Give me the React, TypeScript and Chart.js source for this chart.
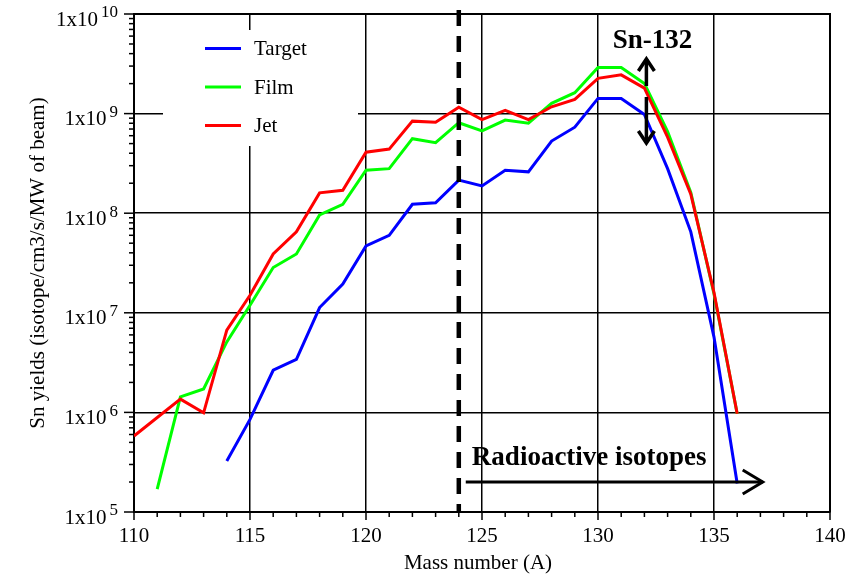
import React, { useEffect, useRef } from 'react';
import { Chart, registerables } from 'chart.js';

Chart.register(...registerables);

// ---------- data ----------
const massNumbers = [110, 111, 112, 113, 114, 115, 116, 117, 118, 119, 120, 121, 122, 123, 124, 125, 126, 127, 128, 129, 130, 131, 132, 133, 134, 135, 136];

const targetYields = [null, null, null, null, 3.25e5, 8.5e5, 2.65e6, 3.4e6, 1.13e7, 1.94e7, 4.7e7, 6.0e7, 1.23e8, 1.27e8, 2.15e8, 1.88e8, 2.7e8, 2.6e8, 5.3e8, 7.3e8, 1.42e9, 1.42e9, 9.8e8, 2.8e8, 6.5e7, 5.7e6, 1.93e5];

const filmYields = [null, 1.7e5, 1.43e6, 1.72e6, 5.1e6, 1.19e7, 2.85e7, 3.9e7, 9.6e7, 1.23e8, 2.7e8, 2.8e8, 5.6e8, 5.1e8, 8.1e8, 6.7e8, 8.6e8, 8.0e8, 1.27e9, 1.62e9, 2.91e9, 2.91e9, 2.01e9, 6.6e8, 1.62e8, 1.55e7, 9.7e5];

const jetYields = [5.8e5, null, 1.36e6, 9.9e5, 6.7e6, 1.5e7, 3.9e7, 6.5e7, 1.6e8, 1.7e8, 4.1e8, 4.4e8, 8.4e8, 8.2e8, 1.16e9, 8.7e8, 1.08e9, 8.7e8, 1.17e9, 1.39e9, 2.26e9, 2.45e9, 1.8e9, 5.8e8, 1.55e8, 1.6e7, 9.7e5];

const seriesNames = ['Target', 'Film', 'Jet'];
const seriesColors = ['#0000ff', '#00ff00', '#ff0000'];

const xTickLabels = [110, 115, 120, 125, 130, 135, 140];
const yExponents = [5, 6, 7, 8, 9, 10];

const xTitle = 'Mass number (A)';
const yTitle = 'Sn yields (isotope/cm3/s/MW of beam)';
const snLabel = 'Sn-132';
const radioLabel = 'Radioactive isotopes';

const boundaryMass = 124;
const snMass = 132;
const arrowStartMass = 124.3;
const arrowEndMass = 137.1;
const arrowYield = 2.0e5;

const FONT = "'Liberation Serif', 'Times New Roman', serif";

const overlay = {
  id: 'overlay',
  afterDraw(chart: any) {
    const { ctx, chartArea: a, scales } = chart;
    const xs = scales.x;
    const ys = scales.y;
    ctx.save();
    ctx.strokeStyle = '#000';
    ctx.fillStyle = '#000';

    // frame top / right
    ctx.lineWidth = 2;
    ctx.beginPath();
    ctx.moveTo(a.left, a.top);
    ctx.lineTo(a.right, a.top);
    ctx.lineTo(a.right, a.bottom);
    ctx.stroke();

    // x minor/major tick marks
    ctx.lineWidth = 1.5;
    for (let v = 110; v <= 140; v++) {
      const px = xs.getPixelForValue(v);
      const len = v % 5 === 0 ? 8 : 5;
      ctx.beginPath();
      ctx.moveTo(px, a.bottom);
      ctx.lineTo(px, a.bottom + len);
      ctx.stroke();
    }
    // y minor/major tick marks
    for (const e of yExponents) {
      for (let s = 1; s <= 9; s++) {
        if (e === 10 && s > 1) break;
        const py = ys.getPixelForValue(s * Math.pow(10, e));
        const len = s === 1 ? 10 : 5;
        ctx.beginPath();
        ctx.moveTo(a.left - len, py);
        ctx.lineTo(a.left, py);
        ctx.stroke();
      }
    }

    // x tick labels
    ctx.font = `21px ${FONT}`;
    ctx.textAlign = 'center';
    ctx.textBaseline = 'alphabetic';
    for (const v of xTickLabels) {
      ctx.fillText(String(v), xs.getPixelForValue(v), a.bottom + 30);
    }

    // y tick labels 1x10^n
    for (const e of yExponents) {
      const py = ys.getPixelForValue(Math.pow(10, e));
      const expStr = String(e);
      ctx.font = `17px ${FONT}`;
      ctx.textAlign = 'right';
      ctx.textBaseline = 'middle';
      const expRight = a.left - 16;
      ctx.fillText(expStr, expRight, py - 1);
      const ew = ctx.measureText(expStr).width;
      ctx.font = `21px ${FONT}`;
      ctx.fillText('1x10', expRight - ew - 3, py + 6);
    }

    // axis titles
    ctx.font = `21px ${FONT}`;
    ctx.textAlign = 'center';
    ctx.textBaseline = 'alphabetic';
    ctx.fillText(xTitle, (a.left + a.right) / 2 - 4, a.bottom + 57);
    ctx.save();
    ctx.translate(44, (a.top + a.bottom) / 2);
    ctx.rotate(-Math.PI / 2);
    ctx.fillText(yTitle, 0, 0);
    ctx.restore();

    // legend
    ctx.fillStyle = '#fff';
    ctx.fillRect(a.left + 29, a.top + 16, 195, 116);
    const ly = [a.top + 34.5, a.top + 73, a.top + 111.5];
    for (let i = 0; i < 3; i++) {
      ctx.strokeStyle = seriesColors[i];
      ctx.lineWidth = 3;
      ctx.beginPath();
      ctx.moveTo(a.left + 71, ly[i]);
      ctx.lineTo(a.left + 107, ly[i]);
      ctx.stroke();
      ctx.fillStyle = '#000';
      ctx.font = `21px ${FONT}`;
      ctx.textAlign = 'left';
      ctx.textBaseline = 'middle';
      ctx.fillText(seriesNames[i], a.left + 120, ly[i] + 1);
    }

    // dashed boundary line
    const dx = xs.getPixelForValue(boundaryMass);
    ctx.strokeStyle = '#000';
    ctx.lineWidth = 4.5;
    ctx.setLineDash([16, 10]);
    ctx.beginPath();
    ctx.moveTo(dx, a.top - 4);
    ctx.lineTo(dx, a.bottom);
    ctx.stroke();
    ctx.setLineDash([]);

    // radioactive arrow
    const ay = ys.getPixelForValue(arrowYield);
    const ax0 = xs.getPixelForValue(arrowStartMass);
    const ax1 = xs.getPixelForValue(arrowEndMass);
    ctx.lineWidth = 3;
    ctx.beginPath();
    ctx.moveTo(ax0, ay);
    ctx.lineTo(ax1, ay);
    ctx.stroke();
    ctx.beginPath();
    ctx.moveTo(ax1 - 20, ay - 12);
    ctx.lineTo(ax1, ay);
    ctx.lineTo(ax1 - 20, ay + 12);
    ctx.stroke();
    ctx.fillStyle = '#000';
    ctx.font = `bold 27px ${FONT}`;
    ctx.textAlign = 'center';
    ctx.textBaseline = 'alphabetic';
    ctx.fillText(radioLabel, (ax0 + ax1) / 2 - 25, ay - 17);

    // Sn-132 double arrow
    const sx = xs.getPixelForValue(snMass) + 2;
    ctx.lineWidth = 3.5;
    ctx.beginPath();
    ctx.moveTo(sx, a.top + 72);
    ctx.lineTo(sx, a.top + 45);
    ctx.stroke();
    ctx.beginPath();
    ctx.moveTo(sx - 8, a.top + 57);
    ctx.lineTo(sx, a.top + 45);
    ctx.lineTo(sx + 8, a.top + 57);
    ctx.stroke();
    ctx.beginPath();
    ctx.moveTo(sx, a.top + 83);
    ctx.lineTo(sx, a.top + 129);
    ctx.stroke();
    ctx.beginPath();
    ctx.moveTo(sx - 8, a.top + 117);
    ctx.lineTo(sx, a.top + 129);
    ctx.lineTo(sx + 8, a.top + 117);
    ctx.stroke();
    ctx.font = `bold 27px ${FONT}`;
    ctx.fillText(snLabel, sx + 6, a.top + 34);

    ctx.restore();
  },
};

export default function App() {
  const ref = useRef<HTMLCanvasElement>(null);
  useEffect(() => {
    const series = [targetYields, filmYields, jetYields];
    const orders = [2, 1, 0];
    const chart = new Chart(ref.current as HTMLCanvasElement, {
      type: 'line',
      data: {
        datasets: series.map((vals, i) => ({
          label: seriesNames[i],
          data: massNumbers.map((m, j) => ({ x: m, y: vals[j] })),
          borderColor: seriesColors[i],
          backgroundColor: seriesColors[i],
          borderWidth: 3,
          pointRadius: 0,
          tension: 0,
          spanGaps: true,
          fill: false,
          order: orders[i],
        })) as any,
      },
      options: {
        responsive: false,
        devicePixelRatio: 1,
        animation: false,
        layout: { padding: { top: 14, right: 37, left: 0, bottom: 0 } },
        plugins: { legend: { display: false }, tooltip: { enabled: false } },
        scales: {
          x: {
            type: 'linear',
            min: 110,
            max: 140,
            ticks: { stepSize: 5, display: false },
            grid: { color: '#000', lineWidth: 1.5, drawTicks: false },
            border: { color: '#000', width: 2 },
            afterFit: (s: any) => { s.height = 69; },
          },
          y: {
            type: 'logarithmic',
            min: 1e5,
            max: 1e10,
            afterBuildTicks: (s: any) => { s.ticks = yExponents.map((e) => ({ value: Math.pow(10, e), major: true })); },
            ticks: { display: false },
            grid: { color: '#000', lineWidth: 1.5, drawTicks: false },
            border: { color: '#000', width: 2 },
            afterFit: (s: any) => { s.width = 134; },
          },
        } as any,
      },
      plugins: [overlay],
    });
    return () => chart.destroy();
  }, []);
  return (
    <div style={{ position: 'fixed', left: 0, top: 0, width: 867, height: 581, background: '#fff' }}>
      <canvas ref={ref} width={867} height={581} style={{ display: 'block' }} />
    </div>
  );
}
